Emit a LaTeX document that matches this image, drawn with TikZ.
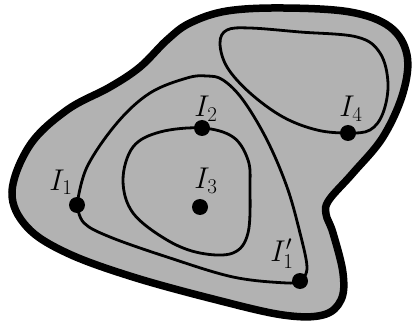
\RequirePackage{fix-cm}
\documentclass[tikz,border=0pt]{standalone}
\begin{document}
\begin{tikzpicture}[x=1pt,y=-1pt,
  curve/.style={line width=2.8pt,line join=round},
  dot/.style={circle,fill=black,inner sep=0pt,minimum size=16pt},
  lbl/.style={font=\fontsize{30}{36}\selectfont}]
\useasboundingbox (0,0) rectangle (412,331);
% outer region
\draw[line width=7.5pt,fill=black!30] plot[smooth cycle,tension=0.6] coordinates {
 (12,192) (30,145) (67,110) (110,87) (140,67) (167,40) (190,23) (227,11) (283,8)
 (350,12) (390,27) (407,55) (403,93) (383,137) (353,173) (329,200)
 (326,214) (333,233) (343,273) (341,300) (323,315) (283,315) (217,300)
 (133,277) (67,253) (27,227)};
% dots
\node[dot] (I1) at (77,205) {};
\node[dot] (I1p) at (300,281) {};
\node[dot] (I2) at (202,128) {};
\node[dot] (I3) at (200,207) {};
\node[dot] (I4) at (348,133) {};
% I1 loop
\draw[curve] plot[smooth,tension=0.6] coordinates {
 (77,205) (87,167) (117,123) (150,93) (187,78) (207,76) (223,80)
 (243,100) (267,140) (287,187) (300,233) (307,267) (302,281)};
\draw[curve] plot[smooth,tension=0.6] coordinates {
 (300,281) (287,283) (233,277) (167,257) (110,237) (84,223) (77,205)};
% I2 loop
\draw[curve] plot[smooth cycle,tension=0.6] coordinates {
 (202,128) (233,137) (248,160) (250,187) (248,233) (233,253) (200,253)
 (167,240) (133,213) (123,180) (133,147) (160,132)};
% I4 loop
\draw[curve] plot[smooth cycle,tension=0.6] coordinates {
 (348,133) (370,130) (383,113) (388,83) (380,53) (357,37) (300,32)
 (250,28) (227,30) (220,43) (227,67) (250,93) (283,117) (317,130)};
% labels
\node[lbl] (L1) at (61,182) {$I_1$};
\node[lbl] (L2) at (206,109) {$I_2$};
\node[lbl] (L3) at (206,181) {$I_3$};
\node[lbl] (L4) at (351,109) {$I_4$};
\node[lbl] (L1p) at (282,254) {$I_1'$};
\end{tikzpicture}
\end{document}
